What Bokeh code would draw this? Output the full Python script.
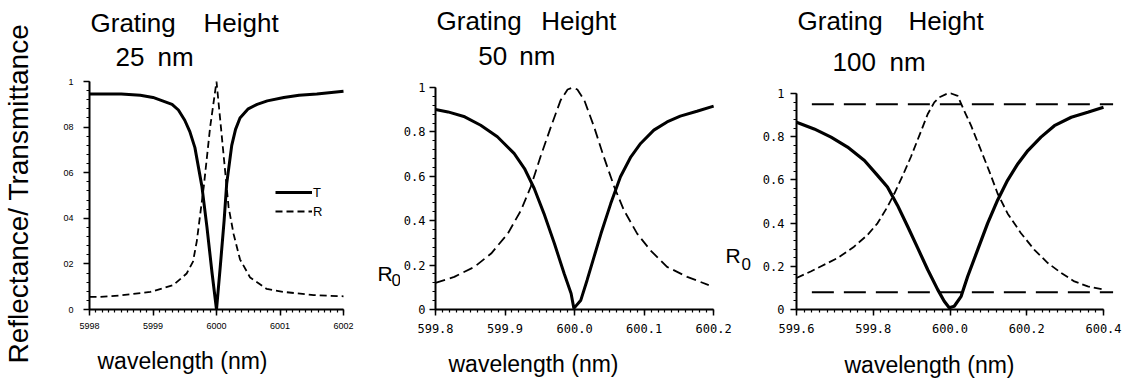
import numpy as np
from bokeh.plotting import figure
from bokeh.layouts import row
from bokeh.models import Range1d, FixedTicker, Legend, LegendItem, Title
from bokeh.core.properties import value
from bokeh.embed import file_html
from bokeh.resources import INLINE

# ---------------- data ----------------
# Panel 1: grating height 25 nm
T1_x = [599.80, 599.85, 599.88, 599.90, 599.915, 599.93, 599.94, 599.95, 599.958, 599.966, 599.977,
        599.985, 599.993, 600.000, 600.006, 600.012, 600.016, 600.024, 600.03, 600.037, 600.05,
        600.064, 600.08, 600.106, 600.13, 600.158, 600.200]
T1_y = [0.945, 0.945, 0.94, 0.93, 0.915, 0.90, 0.875, 0.83, 0.78, 0.71, 0.54,
        0.36, 0.16, 0.00, 0.19, 0.39, 0.55, 0.72, 0.79, 0.84, 0.88,
        0.90, 0.915, 0.93, 0.94, 0.945, 0.957]
R1_x = [599.80, 599.817, 599.85, 599.896, 599.932, 599.953, 599.963, 599.969, 599.974, 599.98,
        599.99, 600.000, 600.008, 600.019, 600.027, 600.037, 600.053, 600.079, 600.106, 600.153, 600.200]
R1_y = [0.055, 0.055, 0.062, 0.077, 0.107, 0.158, 0.21, 0.30, 0.41, 0.54,
        0.80, 1.00, 0.77, 0.45, 0.33, 0.22, 0.14, 0.09, 0.077, 0.063, 0.058]

# Panel 2: grating height 50 nm
T2_x = [599.800, 599.818, 599.842, 599.865, 599.889, 599.913, 599.928, 599.942, 599.956, 599.971,
        599.985, 599.995, 599.999, 600.009, 600.018, 600.028, 600.038, 600.052, 600.066, 600.081,
        600.095, 600.114, 600.133, 600.152, 600.176, 600.200]
T2_y = [0.901, 0.890, 0.868, 0.830, 0.778, 0.703, 0.635, 0.545, 0.432, 0.297,
        0.162, 0.072, 0.005, 0.042, 0.132, 0.237, 0.342, 0.477, 0.598, 0.688,
        0.748, 0.808, 0.845, 0.871, 0.893, 0.916]
R2_x = [599.800, 599.827, 599.856, 599.880, 599.904, 599.923, 599.937, 599.951, 599.966, 599.980,
        599.990, 599.997, 600.004, 600.014, 600.028, 600.042, 600.057, 600.071, 600.090, 600.109,
        600.133, 600.162, 600.193]
R2_y = [0.120, 0.147, 0.192, 0.252, 0.342, 0.447, 0.553, 0.688, 0.823, 0.943,
        0.991, 1.000, 0.991, 0.943, 0.823, 0.688, 0.553, 0.447, 0.342, 0.267,
        0.192, 0.147, 0.110]

# Panel 3: grating height 100 nm
T3_x = [599.600, 599.646, 599.690, 599.733, 599.777, 599.811, 599.837, 599.863, 599.890, 599.916,
        599.942, 599.968, 599.985, 599.998, 600.011, 600.029, 600.046, 600.072, 600.098, 600.124,
        600.150, 600.177, 600.203, 600.237, 600.272, 600.316, 600.359, 600.400]
T3_y = [0.867, 0.836, 0.798, 0.752, 0.690, 0.621, 0.567, 0.483, 0.383, 0.284,
        0.184, 0.092, 0.038, 0.008, 0.015, 0.061, 0.153, 0.276, 0.399, 0.506,
        0.598, 0.675, 0.736, 0.798, 0.851, 0.890, 0.913, 0.936]
R3_x = [599.600, 599.637, 599.663, 599.707, 599.750, 599.785, 599.811, 599.837, 599.855, 599.877,
        599.898, 599.920, 599.942, 599.959, 599.972, 599.990, 600.003, 600.020, 600.037, 600.055,
        600.081, 600.103, 600.124, 600.150, 600.185, 600.220, 600.255, 600.290, 600.324, 600.359,
        600.400]
R3_y = [0.146, 0.176, 0.199, 0.238, 0.291, 0.345, 0.399, 0.475, 0.537, 0.621,
        0.706, 0.805, 0.905, 0.959, 0.982, 0.997, 1.000, 0.989, 0.920, 0.851,
        0.736, 0.637, 0.537, 0.445, 0.353, 0.276, 0.215, 0.169, 0.130, 0.107,
        0.092]
ref_levels = [0.95, 0.08]
ref_x = [599.64, 600.425]

# ticks / labels
y_ticks = [0, 0.2, 0.4, 0.6, 0.8, 1.0]
y_labels_p1 = ["0", "02", "04", "06", "08", "1"]
y_labels = ["0", "0.2", "0.4", "0.6", "0.8", "1"]
x_ticks_p1 = [599.8, 599.9, 600.0, 600.1, 600.2]
x_labels_p1 = ["5998", "5999", "6000", "6001", "6002"]
x_ticks_p2 = [599.8, 599.9, 600.0, 600.1, 600.2]
x_labels_p2 = ["599.8", "599.9", "600.0", "600.1", "600.2"]
x_ticks_p3 = [599.6, 599.8, 600.0, 600.2, 600.4]
x_labels_p3 = ["599.6", "599.8", "600.0", "600.2", "600.4"]

y_title = "Reflectance/ Transmittance"
x_title = "wavelength (nm)"
heights = ["25", "50", "100"]

FONT = "Liberation Sans"
MONO = "DejaVu Sans Mono"

# ---------------- layout constants (pixels in the 1134x381 page) ----------------
LAY = {
    1: dict(c0=44, w=356, ax0=89, ax1=343, y0=309, y1=81, xr=(599.8, 600.2)),
    2: dict(c0=400, w=356, ax0=434, ax1=713, y0=309, y1=87, xr=(599.8, 600.2)),
    3: dict(c0=756, w=378, ax0=796, ax1=1103, y0=309, y1=93, xr=(599.6, 600.4)),
}
BOTTOM = 72


def px2x(k, px):
    L = LAY[k]
    return L["xr"][0] + (px - L["ax0"]) * (L["xr"][1] - L["xr"][0]) / (L["ax1"] - L["ax0"])


def py2y(k, py):
    L = LAY[k]
    return (L["y0"] - py) / (L["y0"] - L["y1"])


def make_fig(k):
    L = LAY[k]
    frame_right = L["c0"] + L["w"]
    p = figure(width=L["w"], height=381, title=None,
               x_range=Range1d(L["xr"][0], px2x(k, frame_right)),
               y_range=Range1d(0, py2y(k, 0)),
               output_backend="svg", toolbar_location=None,
               min_border_left=L["ax0"] - L["c0"], min_border_right=0,
               min_border_top=0, min_border_bottom=BOTTOM)
    p.xgrid.visible = False
    p.ygrid.visible = False
    p.outline_line_color = None
    p.xaxis.bounds = L["xr"]
    p.yaxis.bounds = (0, 1)
    for ax in (p.xaxis[0], p.yaxis[0]):
        ax.axis_line_width = 2
        ax.axis_line_color = "black"
        ax.major_tick_line_width = 1.5
        ax.major_tick_out = 6
        ax.major_tick_in = 0
        ax.minor_tick_out = 3
        ax.minor_tick_in = 0
        ax.minor_tick_line_width = 1.2
        ax.major_label_text_color = "black"
    return p


def words(p, k, items, size):
    p.text(x=[px2x(k, a) for a, _, _ in items], y=[py2y(k, b) for _, b, _ in items],
           text=[t for _, _, t in items], text_font=value(FONT), text_font_size=value(size),
           text_color="black", text_baseline="alphabetic", text_align="left")


def xtitle(p, offset, gap):
    # empty spacer, then the axis title
    p.add_layout(Title(text=" ", text_font_size="1px", standoff=gap), "below")
    p.add_layout(Title(text=x_title, align="left", offset=offset, standoff=0,
                       vertical_align="top",
                       text_font=FONT, text_font_size="23px", text_font_style="normal",
                       text_color="black"), "below")


# ---------------- y title column ----------------
p0 = figure(width=44, height=381, title=None, x_range=Range1d(0, 1), y_range=Range1d(0, 1),
            x_axis_type=None, y_axis_type=None, output_backend="svg", toolbar_location=None,
            min_border_left=3, min_border_right=0, min_border_top=0, min_border_bottom=BOTTOM)
p0.outline_line_color = None
p0.grid.visible = False
p0.add_layout(Title(text=y_title, align="left", offset=-54, standoff=0,
                    text_font=FONT, text_font_size="28px", text_font_style="normal",
                    text_color="black"), "left")

# ---------------- panel 1 ----------------
p1 = make_fig(1)
p1.xaxis.ticker = FixedTicker(ticks=x_ticks_p1, minor_ticks=list(np.round(np.arange(599.8, 600.2001, 0.01), 3)))
p1.yaxis.ticker = FixedTicker(ticks=y_ticks, minor_ticks=list(np.round(np.arange(0, 1.0001, 0.04), 3)))
p1.xaxis.major_label_overrides = dict(zip(x_ticks_p1, x_labels_p1))
p1.yaxis.major_label_overrides = dict(zip(y_ticks, y_labels_p1))
for ax in (p1.xaxis[0], p1.yaxis[0]):
    ax.major_label_text_font = FONT
    ax.major_label_text_font_size = "9px"
p1.xaxis.major_label_standoff = 7
p1.yaxis.major_label_standoff = 10
xtitle(p1, 8, 13)

t1 = p1.line(T1_x, T1_y, line_color="black", line_width=3)
r1 = p1.line(R1_x, R1_y, line_color="black", line_width=1.8, line_dash="7 4")
legend = Legend(items=[LegendItem(label="T", renderers=[t1]), LegendItem(label="R", renderers=[r1])],
                location=(186, 90), glyph_width=37, glyph_height=16, label_height=16,
                label_standoff=1, spacing=3, padding=0, margin=0,
                border_line_color=None, background_fill_alpha=0,
                label_text_font=FONT, label_text_font_size="13px", label_text_color="black")
p1.add_layout(legend)
words(p1, 1, [(90, 22, "Grating"), (203, 22, "Height"),
              (115, 56, heights[0]), (157, 56, "nm")], "26px")
# R0 marker standing left of panel 2's axis
words(p1, 1, [(377, 273, "R")], "21px")
words(p1, 1, [(391, 279, "0")], "17px")

# ---------------- panel 2 ----------------
p2 = make_fig(2)
p2.xaxis.ticker = FixedTicker(ticks=x_ticks_p2, minor_ticks=list(np.round(np.arange(599.8, 600.2001, 0.01), 3)))
p2.yaxis.ticker = FixedTicker(ticks=y_ticks, minor_ticks=list(np.round(np.arange(0, 1.0001, 0.04), 3)))
p2.xaxis.major_label_overrides = dict(zip(x_ticks_p2, x_labels_p2))
p2.yaxis.major_label_overrides = dict(zip(y_ticks, y_labels))
for ax in (p2.xaxis[0], p2.yaxis[0]):
    ax.major_label_text_font = MONO
    ax.major_label_text_font_size = "12px"
p2.xaxis.major_label_standoff = 8
p2.yaxis.major_label_standoff = 4
xtitle(p2, 13, 12)

p2.line(T2_x, T2_y, line_color="black", line_width=3)
p2.line(R2_x, R2_y, line_color="black", line_width=1.8, line_dash="10 5")
words(p2, 2, [(435, 20, "Grating"), (540, 20, "Height"),
              (477, 55, heights[1]), (518, 55, "nm")], "26px")
# R0 marker standing left of panel 3's axis
words(p2, 2, [(725, 255, "R")], "21px")
words(p2, 2, [(741, 263, "0")], "17px")

# ---------------- panel 3 ----------------
p3 = make_fig(3)
p3.xaxis.ticker = FixedTicker(ticks=x_ticks_p3, minor_ticks=list(np.round(np.arange(599.6, 600.4001, 0.02), 3)))
p3.yaxis.ticker = FixedTicker(ticks=y_ticks, minor_ticks=list(np.round(np.arange(0, 1.0001, 0.04), 3)))
p3.xaxis.major_label_overrides = dict(zip(x_ticks_p3, x_labels_p3))
p3.yaxis.major_label_overrides = dict(zip(y_ticks, y_labels))
for ax in (p3.xaxis[0], p3.yaxis[0]):
    ax.major_label_text_font = MONO
    ax.major_label_text_font_size = "12px"
p3.xaxis.major_label_standoff = 8
p3.yaxis.major_label_standoff = 6
xtitle(p3, 48, 13)

p3.multi_line([ref_x for _ in ref_levels], [[lv, lv] for lv in ref_levels],
              line_color="black", line_width=2, line_dash="22 10")
p3.line(T3_x, T3_y, line_color="black", line_width=3.2)
p3.line(R3_x, R3_y, line_color="black", line_width=1.8, line_dash="8 4")
words(p3, 3, [(797, 20, "Grating"), (908, 20, "Height"),
              (832, 61, heights[2]), (889, 61, "nm")], "26px")

layout = row(p0, p1, p2, p3, spacing=0)
open("out.html", "w").write(file_html(layout, INLINE))
